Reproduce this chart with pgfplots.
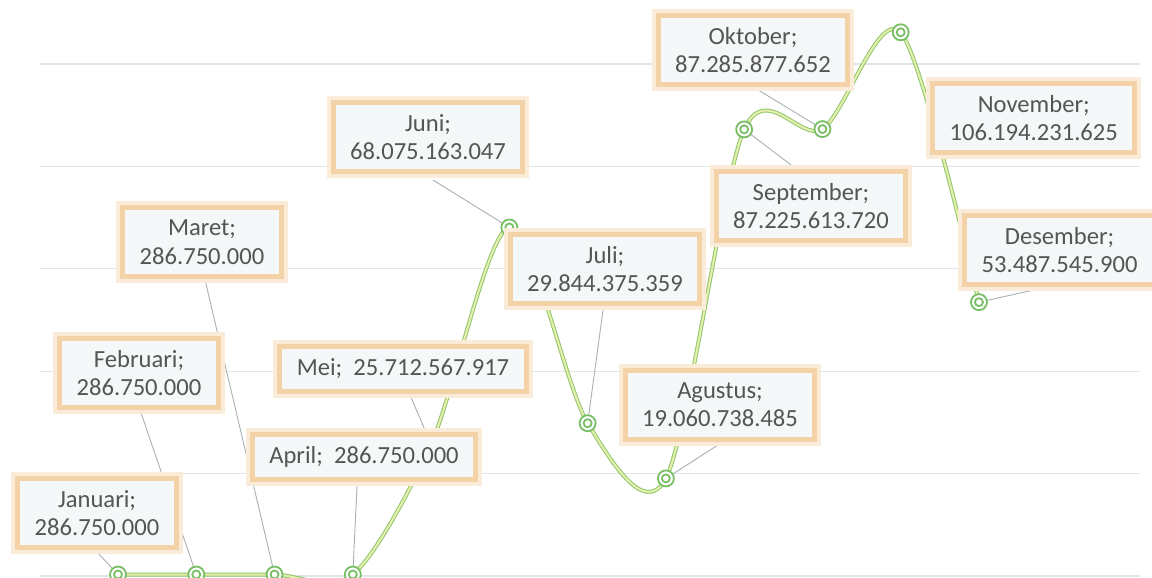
\documentclass[border=0pt]{standalone}
\usepackage{fontspec}
\setmainfont{Carlito}
\usepackage{pgfplots}
\pgfplotsset{compat=1.18}
\definecolor{gridc}{RGB}{226,229,229}
\definecolor{linec}{RGB}{140,200,105}
\definecolor{lineinner}{RGB}{232,238,175}
\definecolor{markc}{RGB}{120,190,100}
\definecolor{glow}{RGB}{244,210,168}
\definecolor{glowouter}{RGB}{251,236,218}
\definecolor{boxfill}{RGB}{244,248,248}
\definecolor{txt}{RGB}{85,85,85}
\definecolor{leader}{RGB}{170,175,178}
\pgfdeclareplotmark{dring}{%
  \pgfpathcircle{\pgfpointorigin}{\pgfplotmarksize}\pgfusepathqfillstroke
  \pgfpathcircle{\pgfpointorigin}{0.5\pgfplotmarksize}\pgfusepathqstroke}
\tikzset{lab/.style={font=\fontsize{12.3}{14.2}\selectfont, text=txt, align=center,
  fill=boxfill, draw=glow, line width=2.5pt, inner xsep=8.5pt, inner ysep=6pt,
  preaction={draw=glowouter, line width=6.5pt}}}
\pgfplotstableread{
m v
0 0.28675
1 0.28675
2 0.28675
3 0.28675
4 25.712567917
5 68.075163047
6 29.844375359
7 19.060738485
8 87.225613720
9 87.285877652
10 106.194231625
11 53.487545900
}\data
\begin{document}
\begin{tikzpicture}
\begin{axis}[set layers, scale only axis, width=576pt, height=289pt,
  xmin=-1.508, xmax=13.211, ymin=-0.39, ymax=112.5,
  axis line style={draw=none}, ticks=none, clip=false]
\foreach \g in {0,20,40,60,80,100}{
  \edef\tmp{\noexpand\draw[gridc, line width=0.6pt] (axis cs:-0.997,\g) -- (axis cs:13.057,\g);}\tmp}
% leader lines
\draw[leader, line width=0.45pt] (axis cs:-0.268,4.69) -- (axis cs:0,0.287);
\draw[leader, line width=0.45pt] (axis cs:0.281,32.42) -- (axis cs:1,0.287);
\draw[leader, line width=0.45pt] (axis cs:1.112,57.81) -- (axis cs:2,0.287);
\draw[leader, line width=0.45pt] (axis cs:3.054,17.77) -- (axis cs:3,0.287);
\draw[leader, line width=0.45pt] (axis cs:3.731,35.35) -- (axis cs:4,25.71);
\draw[leader, line width=0.45pt] (axis cs:4.025,77.34) -- (axis cs:5,68.08);
\draw[leader, line width=0.45pt] (axis cs:6.197,51.95) -- (axis cs:6,29.84);
\draw[leader, line width=0.45pt] (axis cs:7.666,25.59) -- (axis cs:7,19.06);
\draw[leader, line width=0.45pt] (axis cs:8.650,79.69) -- (axis cs:8,87.23);
\draw[leader, line width=0.45pt] (axis cs:8.138,95.31) -- (axis cs:9,87.29);
\draw[leader, line width=0.45pt] (axis cs:10.54,89.84) -- (axis cs:10.42,89.84);
\draw[leader, line width=0.45pt] (axis cs:12.05,57.03) -- (axis cs:11,53.49);
\addplot[draw=linec, line width=0.5pt, double=lineinner, double distance=1pt,
  smooth, tension=0.5, mark=dring, mark size=4pt,
  mark options={draw=markc, fill=white, line width=0.9pt, solid}] table[x=m,y=v]{\data};
% labels
\begin{pgfonlayer}{axis foreground}
\node[lab] at (axis cs:-0.268,12.30) {Januari;\\286.750.000};
\node[lab] at (axis cs:0.268,39.65) {Februari;\\286.750.000};
\node[lab] at (axis cs:1.073,65.23) {Maret;\\286.750.000};
\node[lab] at (axis cs:3.143,23.24) {April;\ \ 286.750.000};
\node[lab] at (axis cs:3.641,40.43) {Mei;\ \ 25.712.567.917};
\node[lab] at (axis cs:3.961,85.74) {Juni;\\68.075.163.047};
\node[lab] at (axis cs:6.222,59.96) {Juli;\\29.844.375.359};
\node[lab] at (axis cs:7.691,33.40) {Agustus;\\19.060.738.485};
\node[lab] at (axis cs:8.854,72.27) {September;\\87.225.613.720};
\node[lab] at (axis cs:8.113,102.73) {Oktober;\\87.285.877.652};
\node[lab] at (axis cs:11.70,89.45) {November;\\106.194.231.625};
\node[lab] at (axis cs:12.03,63.67) {Desember;\\53.487.545.900};
\end{pgfonlayer}
\end{axis}
\pgfresetboundingbox
\path[use as bounding box] (current axis.south west) rectangle (current axis.north east);
\end{tikzpicture}
\end{document}
